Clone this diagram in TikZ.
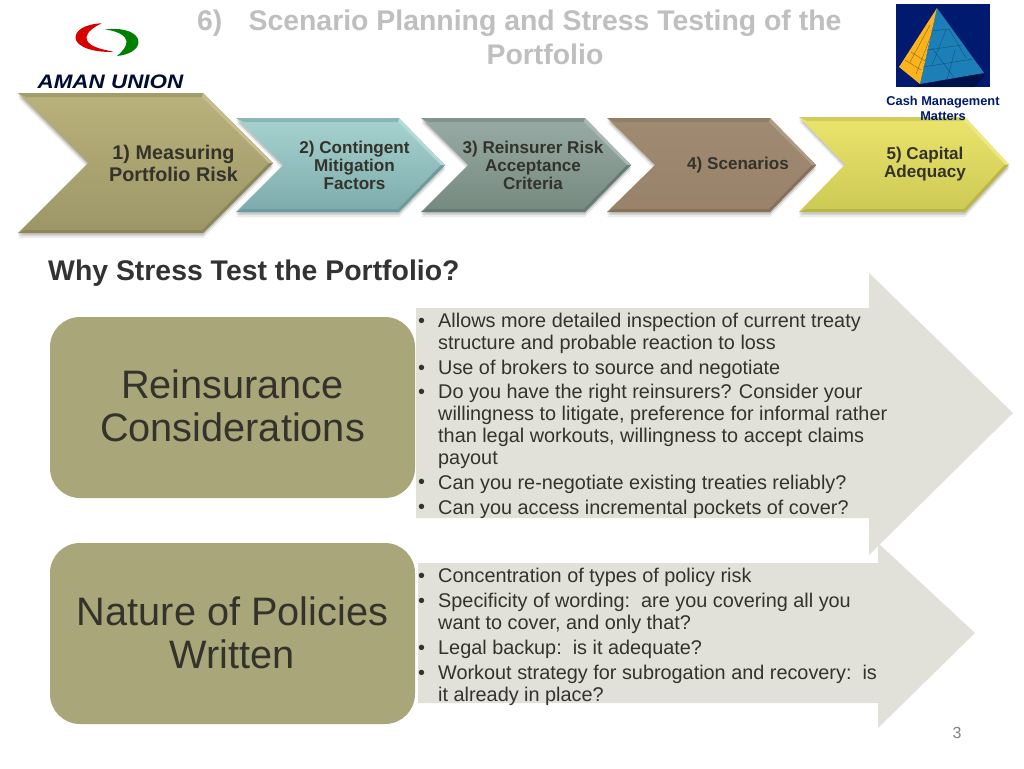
\documentclass[tikz,border=0pt]{standalone}
\usepackage{fontspec}
\setmainfont{Liberation Sans}
\usetikzlibrary{calc}
\newcommand{\fs}[1]{\fontsize{#1}{#1}\selectfont}
\definecolor{panelc}{HTML}{E1E1DA}
\definecolor{roundc}{HTML}{A9A779}
\definecolor{inkc}{HTML}{33332B}
\definecolor{navyc}{HTML}{001A70}
\definecolor{pyrblue}{HTML}{1C7FB8}
\definecolor{pyrorange}{HTML}{FBB41E}
\definecolor{aA}{HTML}{BAB27C}\definecolor{aB}{HTML}{9C9667}\definecolor{aC}{HTML}{8C8659}
\definecolor{bA}{HTML}{A6D3CF}\definecolor{bB}{HTML}{7DABAC}\definecolor{bC}{HTML}{6D9A9C}
\definecolor{cA}{HTML}{98ABA5}\definecolor{cB}{HTML}{76897F}\definecolor{cC}{HTML}{687A75}
\definecolor{dA}{HTML}{A08B72}\definecolor{dB}{HTML}{98826A}\definecolor{dC}{HTML}{86725A}
\definecolor{eA}{HTML}{EBE46C}\definecolor{eB}{HTML}{CCC954}\definecolor{eC}{HTML}{B8B647}
\tikzset{
  x=1pt,y=-1pt,
  chevlabel/.style={font=\bfseries\fs{17.1},align=center,text=inkc,inner sep=0},
  biglabel/.style={font=\bfseries\fs{19.8},align=center,text=inkc,inner sep=0},
  roundbox/.style={fill=roundc,rounded corners=30pt,draw=none},
  roundtext/.style={font=\fs{39.7},align=center,text=inkc,inner sep=0},
  bul/.style={font=\fs{19.85},align=left,text=inkc,inner sep=0,anchor=north west},
  dot/.style={font=\fs{19.85},text=inkc,inner sep=0,anchor=north west},
  panel/.style={fill=panelc,draw=none},
  facet/.style={draw=pyrblue!65!black,line width=.4pt},
}
\newcommand{\chev}[9]{%
  \pgfmathsetmacro{\midy}{(#5+#6)/2}
  \fill[black,opacity=.08] (#1,#5+5) -- (#2,#5+5) -- (#3,\midy+5) -- (#2,#6+5) -- (#1,#6+5) -- (#4,\midy+5) -- cycle;
  \fill[black,opacity=.14] (#1,#5+2.5) -- (#2,#5+2.5) -- (#3,\midy+2.5) -- (#2,#6+2.5) -- (#1,#6+2.5) -- (#4,\midy+2.5) -- cycle;
  \shade[top color=#7,bottom color=#8] (#1,#5) -- (#2,#5) -- (#3,\midy) -- (#2,#6) -- (#1,#6) -- (#4,\midy) -- cycle;
  \fill[#9!50!#7] (#1,#5) -- (#2,#5) -- ($(#2,#5)+(-1,4)$) -- ($(#1,#5)+(8,4)$) -- cycle;
  \fill[#9] (#1,#6) -- (#2,#6) -- ($(#2,#6)+(-1,-3)$) -- ($(#1,#6)+(7,-3)$) -- cycle;
  \fill[#9] (#3,\midy) -- (#2,#6) -- ($(#2,#6)+(-1,-3)$) -- ($(#3,\midy)+(-4,0)$) -- cycle;
  \fill[#7!85!white] (#3,\midy) -- (#2,#5) -- ($(#2,#5)+(-1,4)$) -- ($(#3,\midy)+(-4,0)$) -- cycle;
}
\begin{document}
\begin{tikzpicture}
\useasboundingbox (0,0) rectangle (1024,768);
\fill[white] (0,0) rectangle (1024,768);

% title
\node[font=\bfseries\fs{28.4},text=black!25,inner sep=0,anchor=base west] (titlenum) at (197,30.5) {6)};
\node[font=\bfseries\fs{28.4},text=black!25,inner sep=0,align=center] (title) at (545,37) {Scenario Planning and Stress Testing of the\\[5.5pt]Portfolio};

% logo
\fill[red!85!black] (101.7,23.3) .. controls (84,24) and (75,31) .. (75.5,38) .. controls (76,47) and (95,53) .. (113.3,51.7) .. controls (100,49) and (86,46) .. (86.5,37) .. controls (87,32) and (94,27) .. (101.7,23.3) -- cycle;
\fill[green!50!black] (105,29.5) .. controls (125,27) and (138,33) .. (138.5,41.7) .. controls (138.5,50) and (128,55) .. (117,56) .. controls (123,51) and (127,46) .. (126.5,41) .. controls (126,36) and (118,31) .. (105,29.5) -- cycle;
\node[font=\bfseries\itshape\fs{19.5},text=navyc!45!black,inner sep=0,xscale=1.15] (logotext) at (110.5,82) {AMAN UNION};

% chevrons
\chev{236}{399}{445}{283}{118}{212}{bA}{bB}{bC}
\chev{421}{585}{631}{468}{118}{212}{cA}{cB}{cC}
\chev{607}{770}{816}{655}{118}{212}{dA}{dB}{dC}
\chev{799}{965}{1009}{845}{117}{212}{eA}{eB}{eC}
\chev{18}{203}{273}{88}{93}{233}{aA}{aB}{aC}
\node[biglabel] (c1) at (173.5,163.5) {1) Measuring\\[2.5pt]Portfolio Risk};
\node[chevlabel] (c2) at (354.5,165.5) {2) Contingent\\[1pt]Mitigation\\[1pt]Factors};
\node[chevlabel] (c3) at (533,165.5) {3) Reinsurer Risk\\[1pt]Acceptance\\[1pt]Criteria};
\node[chevlabel] (c4) at (738,165.5) {4) Scenarios};
\node[chevlabel] (c5) at (925,164) {5) Capital\\[1pt]Adequacy};

% pyramid picture
\fill[navyc] (896,4) rectangle (990,87);
\fill[black,opacity=.35] (925,78) -- (985,74) -- (975,87) -- (915,87) -- cycle;
\fill[pyrblue] (937,8) -- (920,84) -- (984,73) -- cycle;
\fill[pyrorange] (937,8) -- (899,67) -- (920,84) -- cycle;
\draw[pyrorange!55!black,line width=.4pt] (930,25) -- (910,62) (932,33) -- (916,74) (911,52) -- (925,61) (905,60) -- (921,70);
\draw[facet] (931,31) -- (949,29) (927,50) -- (962,45) (923,67) -- (973,59);
\draw[facet] (946,30) -- (932,65) (955,50) -- (947,80) (949,29) -- (966,58) (932,48) -- (955,79);
\node[font=\bfseries\fs{12.8},text=navyc,inner sep=0,align=center] (cashlabel) at (943,108.5) {Cash Management\\[2.6pt]Matters};

% heading
\node[font=\bfseries\fs{28.4},text=black!80,inner sep=0,anchor=base west] (why) at (48,280.5) {Why Stress Test the Portfolio?};

% arrows
\fill[panel] (416,308) -- (869,308) -- (869,273) -- (1013,413) -- (869,555) -- (869,518) -- (416,518) -- cycle;
\fill[panel] (418,563) -- (878,563) -- (878,543) -- (975,633) -- (878,728) -- (878,703) -- (418,703) -- cycle;

\node[roundbox,minimum width=365pt,minimum height=181pt,inner sep=0] (r1) at (232.5,407.5) {};
\node[roundbox,minimum width=365pt,minimum height=181pt,inner sep=0] (r2) at (232.5,633.5) {};
\node[roundtext] (r1t) at (232.5,406) {Reinsurance\\[3pt]Considerations};
\node[roundtext] (r2t) at (232.5,632.5) {Nature of Policies\\[3pt]Written};

% bullets
\foreach \nm/\yy in {a/318,b/365,c/389,d/479,e/504,f/573,g/598,h/645,i/670}
  \node[dot] (dot\nm) at (418,\yy) {•};
\node[bul] (b1) at (438,313) {Allows more detailed inspection of current treaty\\[2.2pt]structure and probable reaction to loss};
\node[bul] (b2) at (438,360) {Use of brokers to source and negotiate};
\node[bul] (b3) at (438,384) {Do you have the right reinsurers? Consider your\\[2.2pt]willingness to litigate, preference for informal rather\\[2.2pt]than legal workouts, willingness to accept claims\\[2.2pt]payout};
\node[bul] (b4) at (438,474.5) {Can you re-negotiate existing treaties reliably?};
\node[bul] (b5) at (438,499.5) {Can you access incremental pockets of cover?};
\node[bul] (b6) at (438,568) {Concentration of types of policy risk};
\node[bul] (b7) at (438,593) {Specificity of wording:\ \ are you covering all you\\[2.2pt]want to cover, and only that?};
\node[bul] (b8) at (438,640) {Legal backup:\ \ is it adequate?};
\node[bul] (b9) at (438,665) {Workout strategy for subrogation and recovery:\ \ is\\[2.2pt]it already in place?};

\node[font=\fs{16},text=black!50,inner sep=0] (pagenum) at (957,733) {3};
\end{tikzpicture}
\end{document}
